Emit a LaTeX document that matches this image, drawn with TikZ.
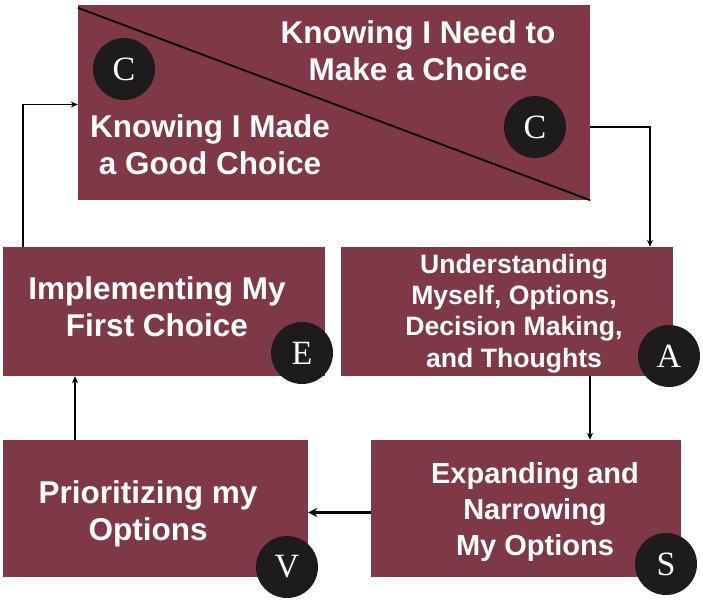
\documentclass[tikz,border=0pt]{standalone}
\usepackage{fontspec}
\setmainfont{Liberation Sans}
\newfontfamily\letterfont{Liberation Serif}
\usetikzlibrary{arrows.meta}

\definecolor{boxred}{RGB}{127,56,70}
\definecolor{dotblack}{RGB}{30,27,28}

\tikzset{
  stagebox/.style={fill=boxred, draw=none, inner sep=0pt},
  stagetext/.style={align=center, text=white, font=\bfseries\fontsize{31.5}{37}\selectfont},
  stageletter/.style={circle, fill=dotblack, text=white, minimum size=62pt, inner sep=0pt,
    font=\letterfont\fontsize{34}{34}\selectfont},
  flow/.style={draw=black, line width=1.4pt, -{Stealth[length=7pt,width=6pt]}}
}

\begin{document}
\begin{tikzpicture}[x=1pt,y=-1pt]
\useasboundingbox (0,0) rectangle (703,599);

\begin{scope}
  \node[stagebox, minimum width=512pt, minimum height=195pt] (top)    at (334,102.5) {};
  \node[stagebox, minimum width=322pt, minimum height=129pt] (impl)   at (164,311.5) {};
  \node[stagebox, minimum width=332pt, minimum height=129pt] (under)  at (507,311.5) {};
  \node[stagebox, minimum width=310pt, minimum height=137pt] (expand) at (526,508.5) {};
  \node[stagebox, minimum width=305pt, minimum height=137pt] (prior)  at (155.5,508.5) {};
\end{scope}

\draw[line width=1.8pt] ([yshift=-3pt]top.north west) -- (top.south east);

\begin{scope}
  \node[stagetext] (need)    at (418,51)  {Knowing I Need to\\Make a Choice};
  \node[stagetext] (made)    at (210,145) {Knowing I Made\\a Good Choice};
  \node[stagetext] (implt)   at (157,307) {Implementing My\\First Choice};
  \node[stagetext, font=\bfseries\fontsize{26.6}{31.3}\selectfont] (undert) at (514,313.5)
    {Understanding\\Myself, Options,\\Decision Making,\\and Thoughts};
  \node[stagetext, font=\bfseries\fontsize{29}{35.7}\selectfont] (expandt) at (535,512)
    {Expanding and\\Narrowing\\My Options};
  \node[stagetext] (priort)  at (148,514) {Prioritizing my\\Options};
\end{scope}

\begin{scope}
  \node[stageletter] (c1) at (124,69)  {C};
  \node[stageletter] (c2) at (535,127) {C};
  \node[stageletter] (le) at (302,353) {E};
  \node[stageletter] (la) at (669,356) {A};
  \node[stageletter] (lv) at (287,567) {V};
  \node[stageletter] (ls) at (666,564) {S};
\end{scope}

% arrows round the cycle
\draw[flow] ([yshift=-24.5pt]top.east) -| ([xshift=143pt]under.north);
\draw[flow] ([xshift=83pt]under.south) -- ([xshift=83pt]under.south |- expand.north);
\draw[flow, line width=3pt, -{Stealth[length=9pt,width=9pt]}] ([yshift=-4pt]expand.west) -- ([yshift=-4pt]prior.east);
\draw[flow] ([xshift=-80.5pt]prior.north) -- ([xshift=-80.5pt]prior.north |- impl.south);
\draw[flow] ([xshift=-141pt]impl.north) |- ([yshift=-2pt]top.west);

\end{tikzpicture}
\end{document}
